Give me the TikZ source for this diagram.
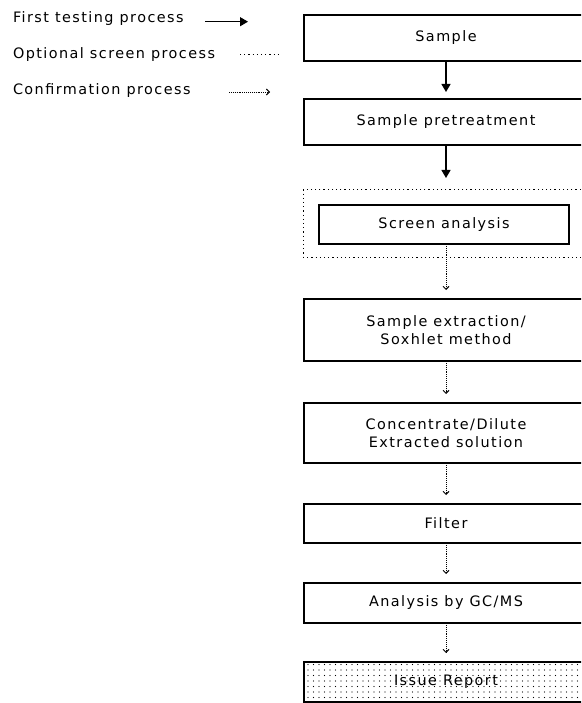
\documentclass[tikz,border=0pt]{standalone}
\usepackage{fontspec}
\setmainfont{DejaVu Sans}[LetterSpace=10]
\usetikzlibrary{arrows.meta,patterns.meta}

\begin{document}
\begin{tikzpicture}[x=1pt,y=-1pt,
  font=\fontsize{14.4}{18}\selectfont,
  every node/.style={inner sep=0pt, outer sep=0pt},
  stepbox/.style={draw, line width=1.3pt, minimum width=284pt, align=center},
  mainflow/.style={line width=1.3pt, -{Triangle[length=8pt,width=9pt]}},
  screenflow/.style={line width=1pt, dash pattern=on 1.2pt off 3pt},
  confirmflow/.style={line width=0.9pt, densely dotted,
    -{Straight Barb[length=3pt,width=6pt]}, shorten >=9pt},
  legend/.style={anchor=base west}]

  \useasboundingbox (0,0) rectangle (581,703);
  \clip (0,0) rectangle (581,703);

  % legend
  \node[legend] (l1) at (13,22.7) {First testing process};
  \node[legend] (l2) at (13,58.7) {Optional screen process};
  \node[legend] (l3) at (13,94.7) {Confirmation process};
  \coordinate (k1a) at (205,21.7);
  \coordinate (k1b) at (248,21.7);
  \coordinate (k2a) at (240,55);
  \coordinate (k2b) at (278,55);
  \coordinate (k3a) at (229,92);
  \coordinate (k3b) at (270,92);
  \draw[mainflow] (k1a) -- (k1b);
  \draw[screenflow] (k2a) -- (k2b);
  \draw[confirmflow, shorten >=0pt] (k3a) -- (k3b);

  % process steps
  \node[stepbox, minimum height=46pt] (sample) at (446,38) {Sample};
  \node[stepbox, minimum height=46pt] (pretreat) at (446,122) {Sample pretreatment};
  \node[screenflow, draw, minimum width=286pt, minimum height=67pt] (frame) at (446,223.5) {};
  \node[stepbox, minimum width=250pt, minimum height=39pt] (screen) at (444,224.5) {Screen analysis};
  \node[stepbox, minimum height=62pt] (extract) at (446,330) {Sample extraction/\\Soxhlet method};
  \node[stepbox, minimum height=60pt] (conc) at (446,433) {Concentrate/Dilute\\Extracted solution};
  \node[stepbox, minimum height=39pt] (filter) at (446,523.5) {Filter};
  \node[stepbox, minimum height=40pt] (gcms) at (446,603) {Analysis by GC/MS};
  \node[stepbox, minimum height=40pt,
        pattern={Dots[distance=5.5pt, radius=0.6pt]}, pattern color=black] (report) at (446,682) {};
  \node at (report.center) {Issue Report};

  % connectors
  \draw[mainflow, shorten >=7pt] (sample) -- (pretreat);
  \draw[mainflow, shorten >=12pt] (pretreat) -- (frame);
  \draw[confirmflow] (screen.south -| 446,0) -- (extract);
  \draw[confirmflow] (extract) -- (conc);
  \draw[confirmflow] (conc) -- (filter);
  \draw[confirmflow] (filter) -- (gcms);
  \draw[confirmflow] (gcms) -- (report);
\end{tikzpicture}
\end{document}
